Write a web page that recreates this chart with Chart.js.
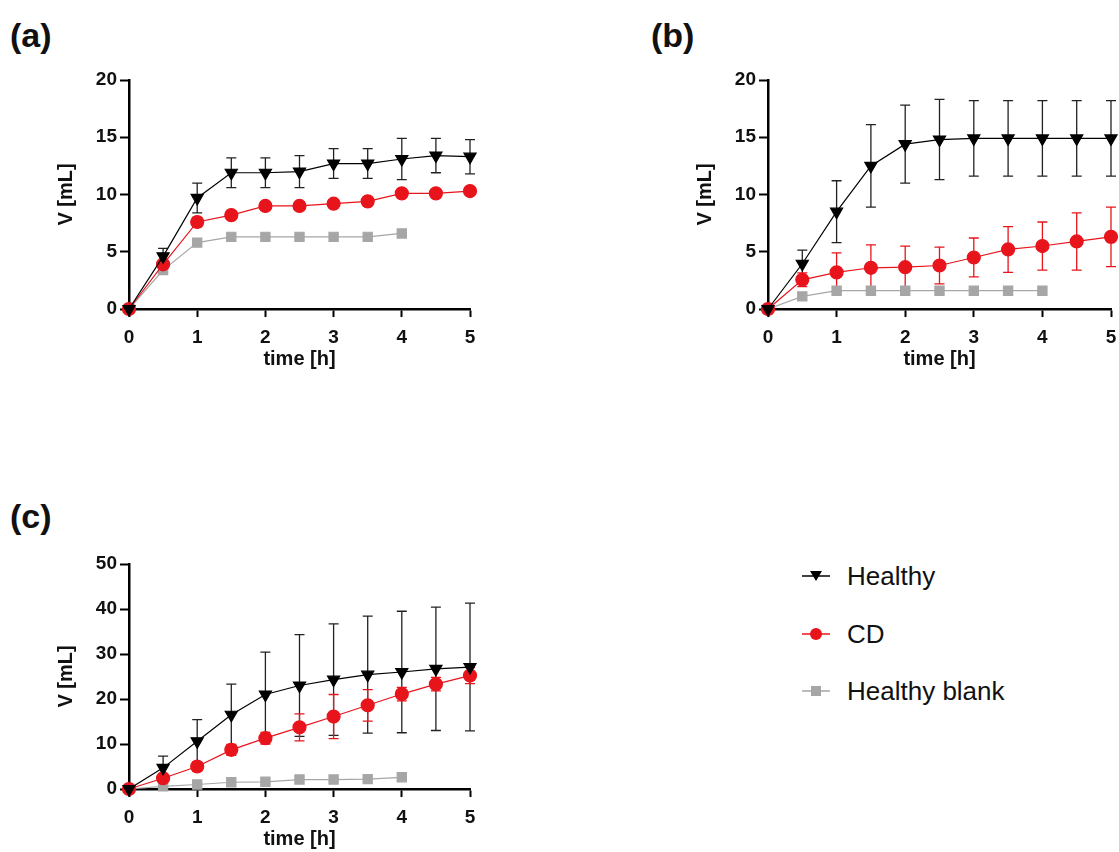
<!DOCTYPE html>
<html>
<head>
<meta charset="utf-8">
<script src="https://cdn.jsdelivr.net/npm/chart.js@4/dist/chart.umd.min.js"></script>
<style>
  body { margin: 0; background: #fff; width: 1119px; height: 852px; position: relative; overflow: hidden; font-family: "Liberation Sans", Arial, sans-serif; }
  canvas { position: absolute; }
  .tag { position: absolute; font-weight: bold; font-size: 34px; line-height: 34px; color: #111; }
  .leg { position: absolute; left: 800px; height: 30px; display: flex; align-items: center; font-size: 26px; color: #111; }
  .leg svg { margin-right: 15px; }
</style>
</head>
<body>
<div class="tag" style="left:10px;top:18px">(a)</div>
<div class="tag" style="left:651px;top:18px">(b)</div>
<div class="tag" style="left:10px;top:499px">(c)</div>

<canvas id="chartA" width="440" height="315" style="left:50px;top:60px"></canvas>
<canvas id="chartB" width="450" height="315" style="left:689px;top:60px"></canvas>
<canvas id="chartC" width="440" height="311" style="left:50px;top:544px"></canvas>

<div class="leg" style="top:561px">
  <svg width="32" height="20"><line x1="2" y1="10" x2="30" y2="10" stroke="#000" stroke-width="1.5"/><polygon points="10,5 22,5 16,15" fill="#000"/></svg>Healthy
</div>
<div class="leg" style="top:619px">
  <svg width="32" height="20"><line x1="2" y1="10" x2="30" y2="10" stroke="#e8141c" stroke-width="1.5"/><circle cx="16" cy="10" r="6" fill="#e8141c"/></svg>CD
</div>
<div class="leg" style="top:676px">
  <svg width="32" height="20"><line x1="2" y1="10" x2="30" y2="10" stroke="#a6a6a6" stroke-width="1.5"/><rect x="11" y="5" width="10" height="10" fill="#a6a6a6"/></svg>Healthy blank
</div>

<script>
var times = [0, 0.5, 1, 1.5, 2, 2.5, 3, 3.5, 4, 4.5, 5];
var blankTimes = [0, 0.5, 1, 1.5, 2, 2.5, 3, 3.5, 4];
var xTicks = [0, 1, 2, 3, 4, 5];

// panel (a)
var healthyA = [0, 4.6, 9.7, 11.9, 11.9, 12.0, 12.7, 12.7, 13.1, 13.4, 13.3];
var healthyASd = [0, 0.7, 1.3, 1.3, 1.3, 1.4, 1.3, 1.3, 1.8, 1.5, 1.5];
var cdA = [0, 3.9, 7.6, 8.2, 9.0, 9.0, 9.2, 9.4, 10.1, 10.1, 10.3];
var cdASd = [0, 0.3, 0.4, 0.3, 0.3, 0.3, 0.3, 0.3, 0.3, 0.3, 0.3];
var blankA = [0, 3.4, 5.8, 6.3, 6.3, 6.3, 6.3, 6.3, 6.6];

// panel (b)
var healthyB = [0, 3.95, 8.5, 12.5, 14.4, 14.8, 14.9, 14.9, 14.9, 14.9, 14.9];
var healthyBSd = [0, 1.2, 2.7, 3.6, 3.4, 3.5, 3.3, 3.3, 3.3, 3.3, 3.3];
var cdB = [0, 2.55, 3.2, 3.6, 3.65, 3.8, 4.5, 5.2, 5.5, 5.9, 6.3];
var cdBSd = [0, 0.6, 1.7, 2.0, 1.85, 1.6, 1.7, 2.0, 2.1, 2.5, 2.6];
var blankB = [0, 1.1, 1.6, 1.6, 1.6, 1.6, 1.6, 1.6, 1.6];

// panel (c)
var healthyC = [0, 4.7, 10.6, 16.5, 21.0, 23.0, 24.3, 25.4, 26.0, 26.7, 27.1];
var healthyCSd = [0, 2.6, 4.8, 6.8, 9.4, 11.3, 12.4, 13.0, 13.5, 13.7, 14.2];
var cdC = [0, 2.4, 5.0, 8.7, 11.3, 13.7, 16.1, 18.6, 21.1, 23.3, 25.2];
var cdCSd = [0, 0.6, 1.0, 1.2, 1.3, 3.0, 4.9, 3.5, 1.5, 1.5, 1.8];
var blankC = [0, 0.6, 1.0, 1.5, 1.6, 2.1, 2.1, 2.2, 2.6];

var black = '#000000';
var red = '#e8141c';
var grey = '#a6a6a6';

function pts(xs, ys) {
  return ys.map(function (v, i) { return { x: xs[i], y: v }; });
}

// draws mean +/- SD bars through the chart's scales
var errorBars = {
  id: 'errorBars',
  beforeDatasetsDraw: function (chart) {
    var ctx = chart.ctx;
    var xs = chart.scales.x, ys = chart.scales.y;
    chart.data.datasets.forEach(function (ds) {
      if (!ds.errors) return;
      ctx.save();
      ctx.strokeStyle = ds.errorColor;
      ctx.lineWidth = 1.3;
      ds.data.forEach(function (p, j) {
        var e = ds.errors[j];
        if (!e) return;
        var x = xs.getPixelForValue(p.x);
        var yt = ys.getPixelForValue(p.y + e);
        var yb = ys.getPixelForValue(Math.max(p.y - e, 0));
        ctx.beginPath();
        ctx.moveTo(x, yt); ctx.lineTo(x, yb);
        ctx.moveTo(x - 5, yt); ctx.lineTo(x + 5, yt);
        ctx.moveTo(x - 5, yb); ctx.lineTo(x + 5, yb);
        ctx.stroke();
      });
      ctx.restore();
    });
  }
};

function makeChart(id, healthy, healthySd, cd, cdSd, blank, yMax, yStep, padRight) {
  var tickFont = { family: '"Liberation Sans", Arial, sans-serif', size: 19, weight: 'bold' };
  var titleFont = { family: '"Liberation Sans", Arial, sans-serif', size: 20, weight: 'bold' };
  return new Chart(document.getElementById(id).getContext('2d'), {
    type: 'line',
    data: {
      datasets: [{
          label: 'Healthy',
          data: pts(times, healthy),
          errors: healthySd,
          errorColor: '#222',
          borderColor: black,
          backgroundColor: black,
          borderWidth: 1.2,
          pointStyle: 'triangle',
          rotation: 180,
          pointRadius: 7,
          clip: false
        },
        {
          label: 'CD',
          data: pts(times, cd),
          errors: cdSd,
          errorColor: red,
          borderColor: red,
          backgroundColor: red,
          borderWidth: 1.2,
          pointStyle: 'circle',
          pointRadius: 6.5,
          clip: false
        },
        {
          label: 'Healthy blank',
          data: pts(blankTimes, blank),
          borderColor: grey,
          backgroundColor: grey,
          borderWidth: 1.2,
          pointStyle: 'rect',
          pointRadius: 6.5,
          clip: false
        }
      ]
    },
    options: {
      responsive: false,
      animation: false,
      layout: { padding: { top: 20, right: padRight, left: 0, bottom: 0 } },
      plugins: { legend: { display: false }, tooltip: { enabled: false } },
      scales: {
        x: {
          type: 'linear',
          min: 0,
          max: 5,
          afterBuildTicks: function (axis) { axis.ticks = xTicks.map(function (v) { return { value: v }; }); },
          afterFit: function (axis) { axis.height = 66; },
          border: { color: black, width: 2.5 },
          grid: { drawOnChartArea: false, drawTicks: true, tickLength: 8, tickColor: black, tickWidth: 2 },
          ticks: { color: '#111', font: tickFont, padding: 9 },
          title: { display: true, text: 'time [h]', color: '#111', font: titleFont }
        },
        y: {
          min: 0,
          max: yMax,
          ticks: { stepSize: yStep, color: '#111', font: tickFont, padding: 3 },
          afterFit: function (axis) { axis.width = 79; },
          border: { color: black, width: 2.5 },
          grid: { drawOnChartArea: false, drawTicks: true, tickLength: 9, tickColor: black, tickWidth: 2 },
          title: { display: true, text: 'V [mL]', color: '#111', font: titleFont }
        }
      }
    },
    plugins: [errorBars]
  });
}

makeChart('chartA', healthyA, healthyASd, cdA, cdASd, blankA, 20, 5, 20);
makeChart('chartB', healthyB, healthyBSd, cdB, cdBSd, blankB, 20, 5, 28);
makeChart('chartC', healthyC, healthyCSd, cdC, cdCSd, blankC, 50, 10, 20);
</script>
</body>
</html>
